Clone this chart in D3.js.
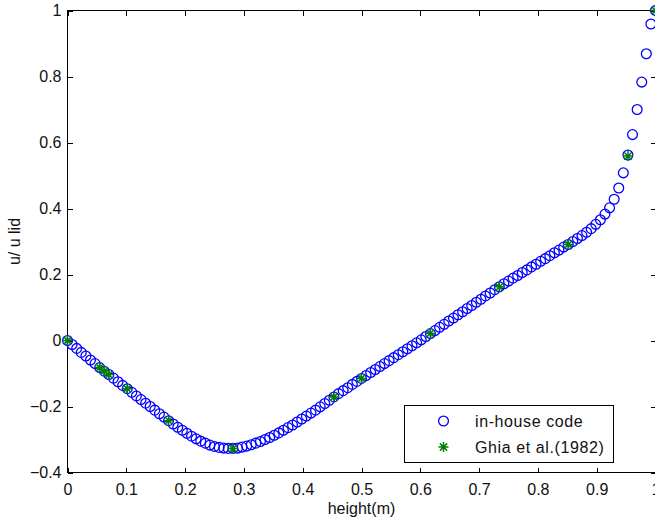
<!doctype html>
<html lang="en">
<head>
    <meta charset="utf-8">
    <title>u/u lid along the height</title>
	<style>
html, body {
	margin: 0;
	padding: 0;
	width: 100%;
	height: 100%;
	overflow: hidden;
	background-color: white;
	font-family: 'Liberation Sans', Arial, sans-serif;
	color: #000;
}

#container {
	position: absolute;
	top: 0;
	left: 0;
}

svg text {
	font-size: 16px;
	fill: #111;
}

svg .axis path,
svg .axis line,
svg .frame {
	stroke: #000;
	stroke-width: 1px;
	fill: none;
	shape-rendering: crispEdges;
}

svg circle.inhouse {
	stroke: #0000ff;
	stroke-width: 1.3px;
	fill: none;
}

svg path.ghia {
	stroke: #008000;
	stroke-width: 1.5px;
	fill: none;
}
	</style>
</head>
<body>
    <div id="container"></div>

	<script src="https://cdnjs.cloudflare.com/ajax/libs/d3/7.8.5/d3.min.js"></script>
	<script>
var xTicks = [0, 0.1, 0.2, 0.3, 0.4, 0.5, 0.6, 0.7, 0.8, 0.9, 1];
var yTicks = [-0.4, -0.2, 0, 0.2, 0.4, 0.6, 0.8, 1];

// in-house code, 129 nodes along the height
var inHouseHeight = [
	0.0000, 0.0078, 0.0156, 0.0234, 0.0313, 0.0391, 0.0469, 0.0547, 0.0625, 0.0703,
	0.0781, 0.0859, 0.0938, 0.1016, 0.1094, 0.1172, 0.1250, 0.1328, 0.1406, 0.1484,
	0.1563, 0.1641, 0.1719, 0.1797, 0.1875, 0.1953, 0.2031, 0.2109, 0.2188, 0.2266,
	0.2344, 0.2422, 0.2500, 0.2578, 0.2656, 0.2734, 0.2813, 0.2891, 0.2969, 0.3047,
	0.3125, 0.3203, 0.3281, 0.3359, 0.3438, 0.3516, 0.3594, 0.3672, 0.3750, 0.3828,
	0.3906, 0.3984, 0.4063, 0.4141, 0.4219, 0.4297, 0.4375, 0.4453, 0.4531, 0.4609,
	0.4688, 0.4766, 0.4844, 0.4922, 0.5000, 0.5078, 0.5156, 0.5234, 0.5313, 0.5391,
	0.5469, 0.5547, 0.5625, 0.5703, 0.5781, 0.5859, 0.5938, 0.6016, 0.6094, 0.6172,
	0.6250, 0.6328, 0.6406, 0.6484, 0.6563, 0.6641, 0.6719, 0.6797, 0.6875, 0.6953,
	0.7031, 0.7109, 0.7188, 0.7266, 0.7344, 0.7422, 0.7500, 0.7578, 0.7656, 0.7734,
	0.7813, 0.7891, 0.7969, 0.8047, 0.8125, 0.8203, 0.8281, 0.8359, 0.8438, 0.8516,
	0.8594, 0.8672, 0.8750, 0.8828, 0.8906, 0.8984, 0.9063, 0.9141, 0.9219, 0.9297,
	0.9375, 0.9453, 0.9531, 0.9609, 0.9688, 0.9766, 0.9844, 0.9922, 1.0000
];
var inHouseU = [
	0.000, -0.012, -0.024, -0.036, -0.047, -0.059, -0.070, -0.082, -0.093, -0.103,
	-0.114, -0.125, -0.136, -0.146, -0.157, -0.168, -0.179, -0.190, -0.200, -0.211,
	-0.222, -0.232, -0.243, -0.253, -0.263, -0.272, -0.281, -0.290, -0.298, -0.305,
	-0.311, -0.317, -0.321, -0.324, -0.326, -0.327, -0.327, -0.326, -0.323, -0.320,
	-0.316, -0.311, -0.306, -0.300, -0.294, -0.287, -0.280, -0.272, -0.264, -0.256,
	-0.247, -0.238, -0.229, -0.220, -0.211, -0.201, -0.191, -0.181, -0.171, -0.161,
	-0.152, -0.143, -0.133, -0.124, -0.115, -0.106, -0.097, -0.088, -0.079, -0.070,
	-0.061, -0.052, -0.043, -0.034, -0.025, -0.016, -0.007, 0.002, 0.012, 0.021,
	0.030, 0.040, 0.049, 0.059, 0.068, 0.078, 0.087, 0.097, 0.106, 0.116,
	0.125, 0.135, 0.144, 0.154, 0.163, 0.172, 0.180, 0.189, 0.197, 0.206,
	0.214, 0.223, 0.231, 0.240, 0.248, 0.257, 0.266, 0.274, 0.283, 0.291,
	0.300, 0.309, 0.318, 0.328, 0.339, 0.352, 0.366, 0.383, 0.402, 0.428,
	0.462, 0.508, 0.562, 0.624, 0.700, 0.783, 0.869, 0.959, 1.000
];

// Ghia et al. (1982)
var ghiaHeight = [0, 0.0547, 0.0625, 0.0703, 0.1016, 0.1719, 0.2813, 0.4531, 0.5, 0.6172, 0.7344, 0.8516, 0.9531, 1];
var ghiaU = [0, -0.0819, -0.0927, -0.1034, -0.1461, -0.2430, -0.3273, -0.1712, -0.1148, 0.0214, 0.1626, 0.2909, 0.5589, 1];

var legendLabels = ['in-house code', 'Ghia et al.(1982)'];

(function _chart(d3) {

	'use strict';

	/* CONST */

	var W = 655;
	var H = 518;
	var box = { left: 67.5, right: 655.5, top: 10.5, bottom: 472.5 };
	var TICK = 5;
	var R = 4.9;

	var x = d3.scaleLinear().domain([0, 1]).range([box.left, box.right]);
	var y = d3.scaleLinear().domain([-0.4, 1]).range([box.bottom, box.top]);

	var fmt = function (v) {
		return d3.format('~g')(+v.toFixed(2));
	};

	// matlab '*' marker
	var star = function (s) {
		var d = s * 0.72;
		return 'M' + (-s) + ',0H' + s +
			'M0,' + (-s) + 'V' + s +
			'M' + (-d) + ',' + (-d) + 'L' + d + ',' + d +
			'M' + (-d) + ',' + d + 'L' + d + ',' + (-d);
	};

	var plainText = function (g) {
		g.select('.domain').remove();
		g.selectAll('text').attr('font-family', null).attr('font-size', null);
	};

	/* RENDER */

	var svg = d3.select('#container')
		.append('svg')
			.attr('width', W)
			.attr('height', H);

	svg.append('rect')
		.attr('width', W)
		.attr('height', H)
		.attr('fill', 'white');

	svg.append('g')
		.attr('class', 'axis')
		.attr('transform', 'translate(0,' + box.bottom + ')')
		.call(d3.axisBottom(x).tickValues(xTicks).tickFormat(fmt)
			.tickSizeInner(-TICK).tickSizeOuter(0).tickPadding(11))
		.call(plainText);

	svg.append('g')
		.attr('class', 'axis')
		.attr('transform', 'translate(' + box.left + ',0)')
		.call(d3.axisLeft(y).tickValues(yTicks).tickFormat(fmt)
			.tickSizeInner(-TICK).tickSizeOuter(0).tickPadding(6))
		.call(plainText);

	svg.append('g')
		.attr('class', 'axis')
		.attr('transform', 'translate(0,' + box.top + ')')
		.call(d3.axisTop(x).tickValues(xTicks).tickFormat('')
			.tickSizeInner(-TICK).tickSizeOuter(0))
		.call(plainText);

	svg.append('g')
		.attr('class', 'axis')
		.attr('transform', 'translate(' + box.right + ',0)')
		.call(d3.axisRight(y).tickValues(yTicks).tickFormat('')
			.tickSizeInner(-TICK).tickSizeOuter(0))
		.call(plainText);

	svg.append('rect')
		.attr('class', 'frame')
		.attr('x', box.left)
		.attr('y', box.top)
		.attr('width', box.right - box.left)
		.attr('height', box.bottom - box.top);

	// axis titles
	svg.append('text')
		.attr('x', (box.left + box.right) / 2)
		.attr('y', 514)
		.attr('text-anchor', 'middle')
		.text('height(m)');

	svg.append('text')
		.attr('transform', 'translate(20,' + (box.top + box.bottom) / 2 + ') rotate(-90)')
		.attr('text-anchor', 'middle')
		.text('u/ u lid');

	// series
	svg.append('g')
		.selectAll('circle')
		.data(d3.range(inHouseHeight.length))
		.enter()
		.append('circle')
			.attr('class', 'inhouse')
			.attr('cx', function (i) { return x(inHouseHeight[i]); })
			.attr('cy', function (i) { return y(inHouseU[i]); })
			.attr('r', R);

	svg.append('g')
		.selectAll('path')
		.data(d3.range(ghiaHeight.length))
		.enter()
		.append('path')
			.attr('class', 'ghia')
			.attr('transform', function (i) {
				return 'translate(' + x(ghiaHeight[i]) + ',' + y(ghiaU[i]) + ')';
			})
			.attr('d', star(5));

	/* LEGEND */

	var leg = svg.append('g').attr('transform', 'translate(404.5,405.5)');

	leg.append('rect')
		.attr('class', 'frame')
		.attr('fill', 'white')
		.attr('width', 209)
		.attr('height', 57);

	leg.append('circle')
		.attr('class', 'inhouse')
		.attr('cx', 39)
		.attr('cy', 15.5)
		.attr('r', R);

	leg.append('path')
		.attr('class', 'ghia')
		.attr('transform', 'translate(39,41.5)')
		.attr('d', star(5));

	leg.selectAll('text.lbl')
		.data(legendLabels)
		.enter()
		.append('text')
			.attr('class', 'lbl')
			.attr('x', 70.5)
			.attr('y', function (d, i) { return 21.5 + i * 26; })
			.attr('letter-spacing', '0.6px')
			.text(function (d) { return d; });

})(window.d3);
	</script>
</body>
</html>
